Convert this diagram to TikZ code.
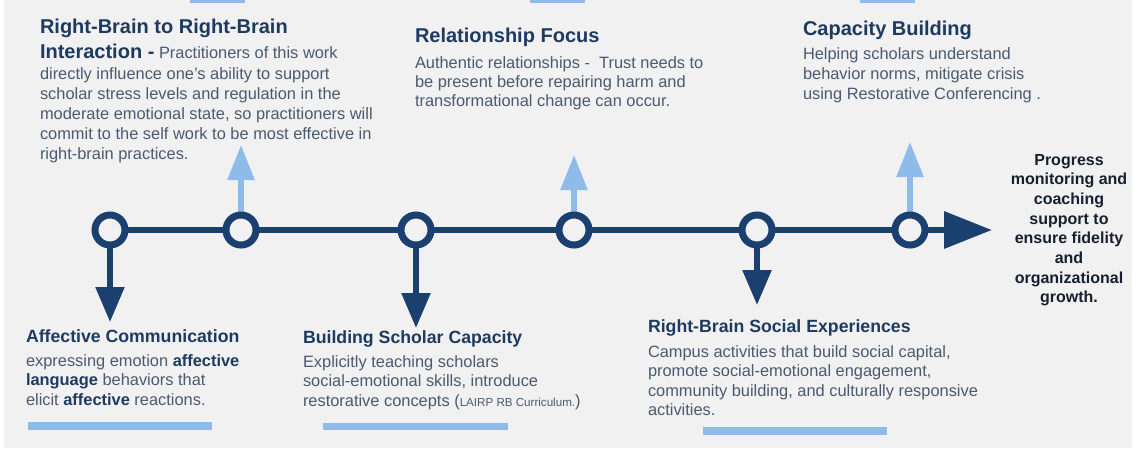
\documentclass[tikz,border=0pt]{standalone}
\usepackage{fontspec}
\setmainfont{Liberation Sans}
\usetikzlibrary{arrows.meta}
\definecolor{bg}{HTML}{F1F1F1}
\definecolor{navy}{HTML}{1B3F6E}
\definecolor{ttl}{HTML}{1F3A60}
\definecolor{bdy}{HTML}{4A5A70}
\definecolor{lblue}{HTML}{8EBBEA}
\definecolor{dark}{HTML}{17202E}
\pgfdeclarelayer{bottom}
\pgfdeclarelayer{background}
\pgfsetlayers{bottom,background,main}
\newcommand{\ttlfont}{\fontsize{20}{24}\selectfont\bfseries\color{ttl}}
\newcommand{\emw}[1]{{\bfseries\color{ttl}#1}}
\begin{document}
\begin{tikzpicture}[x=1pt,y=-1pt,
  every node/.style={inner sep=0pt, outer sep=0pt},
  bigtitle/.style={anchor=base west, text=ttl, font=\fontsize{20}{24}\selectfont\bfseries},
  subtitle/.style={anchor=base west, text=ttl, font=\fontsize{17.7}{21}\selectfont\bfseries},
  bodytext/.style={anchor=base west, text=bdy, font=\fontsize{16.4}{20}\selectfont},
  sidetext/.style={anchor=base, text=dark, font=\fontsize{16}{19}\selectfont\bfseries},
  ringnode/.style={circle, draw=navy, line width=7pt, fill=bg, minimum size=30pt},
  spine/.style={draw=navy, line width=6.5pt, -{Triangle[length=48pt,width=36pt]}},
  downarrow/.style={draw=navy, line width=5.5pt, -{Triangle[length=35pt,width=28pt]}},
  uparrow/.style={draw=lblue, line width=5.5pt, -{Triangle[length=35pt,width=26pt]}},
  lbar/.style={fill=lblue, draw=none}
]
\begin{pgfonlayer}{bottom}
\fill[white] (0,0) rectangle (1139,451);
\fill[bg] (4,0) rectangle (1132,448);
% partially visible bars at top edge
\fill[lblue] (190,0) rectangle (245,3);
\fill[lblue] (530,0) rectangle (585,3);
\fill[lblue] (860,0) rectangle (915,3);
% bars under bottom texts
\fill[lblue] (28,422) rectangle (212,430);
\fill[lblue] (323,423) rectangle (508,430);
\fill[lblue] (703,427) rectangle (887,435);
\end{pgfonlayer}

% timeline rings
\node[ringnode] (c1) at (110,230) {};
\node[ringnode] (c2) at (241,230) {};
\node[ringnode] (c3) at (416,230) {};
\node[ringnode] (c4) at (574,230) {};
\node[ringnode] (c5) at (757,230) {};
\node[ringnode] (c6) at (910,230) {};
\coordinate (tend) at (992,230);
\coordinate (d1) at (110,322);
\coordinate (d3) at (416,328);
\coordinate (d5) at (757,305);
\coordinate (u2) at (241,145);
\coordinate (u4) at (574,155);
\coordinate (u6) at (910,142);

\begin{pgfonlayer}{background}
\draw[spine] (c1.center) -- (tend);
\draw[downarrow] (c1.center) -- (d1);
\draw[downarrow] (c3.center) -- (d3);
\draw[downarrow] (c5.center) -- (d5);
\draw[uparrow] (c2.center) -- (u2);
\draw[uparrow] (c4.center) -- (u4);
\draw[uparrow] (c6.center) -- (u6);
\end{pgfonlayer}

% Block A
\node[bigtitle] (a1) at (40,33) {Right-Brain to Right-Brain};
\node[bodytext] (a2) at (40,58) {{\ttlfont Interaction -} Practitioners of this work};
\node[bodytext] (a3) at (40,79) {directly influence one’s ability to support};
\node[bodytext] (a4) at (40,99) {scholar stress levels and regulation in the};
\node[bodytext] (a5) at (40,119) {moderate emotional state, so practitioners will};
\node[bodytext] (a6) at (40,139) {commit to the self work to be most effective in};
\node[bodytext] (a7) at (40,159) {right-brain practices.};

% Block B
\node[bigtitle] (b1) at (415,42) {Relationship Focus};
\node[bodytext] (b2) at (415,68) {Authentic relationships -\ \ Trust needs to};
\node[bodytext] (b3) at (415,87) {be present before repairing harm and};
\node[bodytext] (b4) at (415,106) {transformational change can occur.};

% Block C
\node[bigtitle] (k1) at (803,35) {Capacity Building};
\node[bodytext] (k2) at (803,59) {Helping scholars understand};
\node[bodytext] (k3) at (803,79) {behavior norms, mitigate crisis};
\node[bodytext] (k4) at (803,99) {using Restorative Conferencing .};

% Block D
\node[subtitle] (e1) at (26,342) {Affective Communication};
\node[bodytext] (e2) at (26,366) {expressing emotion \emw{affective}};
\node[bodytext] (e3) at (26,385) {\emw{language} behaviors that};
\node[bodytext] (e4) at (26,405) {elicit \emw{affective} reactions.};

% Block E
\node[subtitle] (f1) at (303,343) {Building Scholar Capacity};
\node[bodytext] (f2) at (303,367) {Explicitly teaching scholars};
\node[bodytext] (f3) at (303,386) {social-emotional skills, introduce};
\node[bodytext] (f4) at (303,406) {restorative concepts ({\fontsize{11.6}{14}\selectfont LAIRP RB Curriculum.})};

% Block F
\node[subtitle] (g1) at (648,332) {Right-Brain Social Experiences};
\node[bodytext] (g2) at (648,357) {Campus activities that build social capital,};
\node[bodytext] (g3) at (648,376) {promote social-emotional engagement,};
\node[bodytext] (g4) at (648,396) {community building, and culturally responsive};
\node[bodytext] (g5) at (648,415) {activities.};

% Right text
\node[sidetext] (s1) at (1069,165) {Progress};
\node[sidetext] (s2) at (1069,184.5) {monitoring and};
\node[sidetext] (s3) at (1069,204) {coaching};
\node[sidetext] (s4) at (1069,224) {support to};
\node[sidetext] (s5) at (1069,243) {ensure fidelity};
\node[sidetext] (s6) at (1069,263) {and};
\node[sidetext] (s7) at (1069,283) {organizational};
\node[sidetext] (s8) at (1069,302) {growth.};
\end{tikzpicture}
\end{document}
